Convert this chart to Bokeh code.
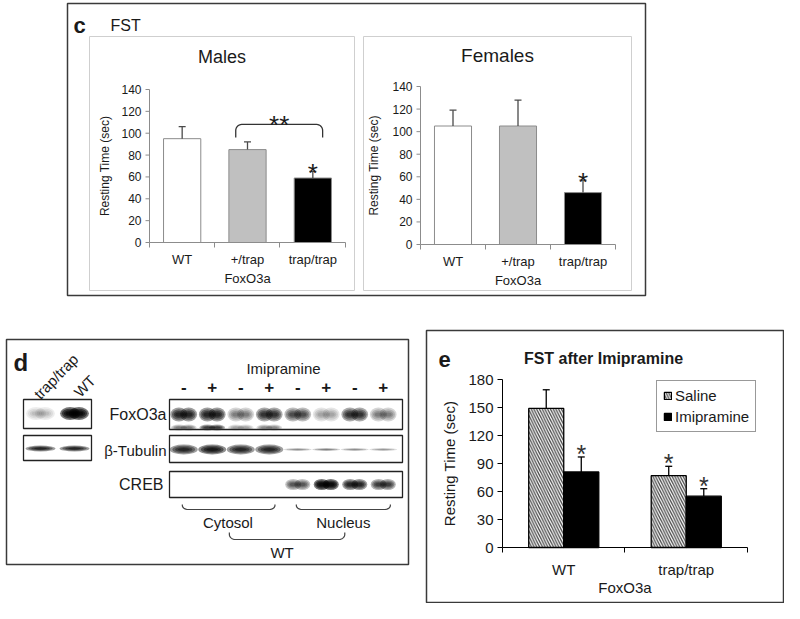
import numpy as np
from bokeh.plotting import figure
from bokeh.models import Range1d, Legend, LegendItem
from bokeh.core.properties import value
from bokeh.embed import file_html
from bokeh.resources import INLINE

FONT = value("Liberation Sans")
INK = "#1a1a1a"
STAR_K = 0.4   # approx. height of the asterisk centre above the baseline, in em

# ---------------- data ----------------
fst_groups = ["WT", "+/trap", "trap/trap"]
fst_colors = ["#ffffff", "#c0c0c0", "#000000"]
male_mean = [95, 85, 59]
male_err = [11, 7, 6]
female_mean = [105, 105, 46]
female_err = [14, 23, 11]
fst_ticks = [0, 20, 40, 60, 80, 100, 120, 140]
male_star = [False, False, True]
female_star = [False, False, True]
male_bracket = ("+/trap", "trap/trap")

imi_groups = ["WT", "trap/trap"]
saline_mean = [149, 77]
saline_err = [20, 10]
imip_mean = [81, 55]
imip_err = [16, 8]
imi_ticks = [0, 30, 60, 90, 120, 150, 180]
saline_star = [False, True]
imip_star = [True, True]

blot_signs = ["-", "+", "-", "+", "-", "+", "-", "+"]
foxo3a_upper = [0.85, 0.85, 0.5, 0.8, 0.7, 0.35, 0.8, 0.5]
foxo3a_lower = [0.5, 0.75, 0.35, 0.45, 0.0, 0.0, 0.0, 0.0]
tubulin_band = [0.85, 0.9, 0.85, 0.85, 0.45, 0.5, 0.45, 0.4]
creb_band = [0.0, 0.0, 0.0, 0.0, 0.65, 0.95, 0.85, 0.75]
left_lanes = ["trap/trap", "WT"]
left_foxo3a = [0.25, 0.95]
left_tubulin = [0.85, 0.85]

# ---------------- canvas ----------------
p = figure(width=784, height=603, x_range=Range1d(8, 792), y_range=Range1d(611, 8),
           x_axis_type=None, y_axis_type=None, toolbar_location=None,
           output_backend="svg", min_border=0, outline_line_color=None)
p.background_fill_color = "white"
p.border_fill_color = "white"


def label(g, x, y, s, size, align="center", baseline="middle", bold=False,
          color=INK, angle=0.0):
    g.text(x=[x], y=[y], text=[s], text_font=FONT, text_font_size=f"{size}px",
           text_font_style="bold" if bold else "normal", text_align=align,
           text_baseline=baseline, text_color=color, angle=angle)


def bracket(g, xl, xr, yb, yt, rx, ry, **kw):
    th = np.linspace(0, np.pi / 2, 8)
    lx = xl + rx - rx * np.cos(th)
    ly = yt - ry + ry * np.sin(th)
    rxs = xr - rx + rx * np.sin(th)
    rys = yt - ry + ry * np.cos(th)
    xs = [xl] + list(lx) + list(rxs) + [xr]
    ys = [yb] + list(ly) + list(rys) + [yb]
    g.line(xs, ys, **kw)


# ======================= panel c =======================
p.quad(left=[75], right=[653], top=[11], bottom=[303], fill_color=None,
       line_color="#3a3a3a", line_width=1.5)
p.quad(left=[97, 371], right=[362, 639], top=[44, 44], bottom=[298, 298],
       fill_color=None, line_color="#cfcfcf", line_width=1)
label(p, 81, 33, "c", 22, align="left", baseline="alphabetic", bold=True)
label(p, 118, 33, "FST", 16, align="left", baseline="alphabetic")


def fst_panel(xt, yt, means, errs, stars):
    n = len(fst_groups)
    ymax = fst_ticks[-1]
    sub = p.subplot(x_source=Range1d(0, n), y_source=Range1d(0, ymax),
                    x_target=Range1d(*xt), y_target=Range1d(*yt))
    ux = (xt[1] - xt[0]) / n
    uy = (yt[0] - yt[1]) / ymax
    xs = np.arange(n) + 0.5
    m = np.asarray(means, float)
    top = m + np.asarray(errs, float)
    grey = "#8c8c8c"
    sub.vbar(x=xs, bottom=0, top=m, width=0.57, fill_color=fst_colors,
             line_color=grey, line_width=1)
    sub.segment(x0=xs, y0=m, x1=xs, y1=top, line_color="#4a4a4a", line_width=1.3)
    sub.segment(x0=xs - 3.5 / ux, y0=top, x1=xs + 3.5 / ux, y1=top,
                line_color="#4a4a4a", line_width=1.3)
    sub.segment(x0=[0, 0], y0=[0, 0], x1=[0, n], y1=[ymax, 0], line_color=grey, line_width=1)
    t = np.asarray(fst_ticks, float)
    sub.segment(x0=0, y0=t, x1=-4 / ux, y1=t, line_color=grey)
    b = np.arange(n + 1)
    sub.segment(x0=b, y0=0, x1=b, y1=-5 / uy, line_color=grey)
    sub.text(x=-8 / ux, y=t, text=[str(v) for v in fst_ticks], text_align="right",
             text_baseline="middle", text_font=FONT, text_font_size="12px", text_color=INK)
    sub.text(x=xs, y=-17 / uy, text=fst_groups, text_align="center", text_baseline="middle",
             text_font=FONT, text_font_size="13px", text_color=INK)
    sub.text(x=[n / 2], y=[-36 / uy], text=["FoxO3a"], text_align="center",
             text_baseline="middle", text_font=FONT, text_font_size="13px", text_color=INK)
    idx = [i for i, s in enumerate(stars) if s]
    fs = 26
    sub.text(x=xs[idx], y=top[idx] + (9 - STAR_K * fs) / uy, text=["*"] * len(idx),
             text_align="center", text_baseline="alphabetic", text_font=FONT,
             text_font_size=f"{fs}px", text_color=INK)
    return sub, ux, uy


sub_m, uxm, uym = fst_panel((157, 353), (250, 97), male_mean, male_err, male_star)
label(p, 229.5, 64, "Males", 18)
label(p, 112, 173.5, "Resting Time (sec)", 12, angle=np.pi / 2)

i0, i1 = fst_groups.index(male_bracket[0]), fst_groups.index(male_bracket[1])
bxl, bxr = i0 + 0.32, i1 + 0.65
b_top, b_bot = 108, 96
bracket(sub_m, bxl, bxr, b_bot, b_top, 6 / uxm, 6 / uym, line_color="#333333", line_width=1.3)
sub_m.text(x=[(bxl + bxr) / 2], y=[b_top + (10 - STAR_K * 26) / uym], text=["**"],
           text_align="center", text_baseline="alphabetic", text_font=FONT,
           text_font_size="26px", text_color=INK)

sub_f, uxf, uyf = fst_panel((428, 623), (252, 94), female_mean, female_err, female_star)
label(p, 505, 63, "Females", 19)
label(p, 381, 173, "Resting Time (sec)", 12, angle=np.pi / 2)

# ======================= panel d =======================
p.quad(left=[14], right=[416], top=[347], bottom=[572], fill_color=None,
       line_color="#3a3a3a", line_width=1.5)
label(p, 21, 370, "d", 24, align="left", baseline="alphabetic", bold=True)


def blobs(g, xc, yc, w, h, inten):
    a = 1 - (1 - np.clip(np.asarray(inten, float), 0, 0.99)) ** (1 / 4)
    for fw, fh in [(1.0, 1.0), (0.82, 0.75), (0.62, 0.5), (0.42, 0.3)]:
        g.ellipse(x=xc, y=yc, width=w * fw, height=h * fh, width_units="screen",
                  height_units="screen", fill_color="#000000", fill_alpha=a,
                  line_color=None)


# left blot (trap/trap vs WT)
lb = p.subplot(x_source=Range1d(0.5, 2.5), y_source=Range1d(611, 8),
               x_target=Range1d(31, 99), y_target=Range1d(611, 8))
ll = np.arange(len(left_lanes)) + 1.0
blobs(lb, ll - 0.13, 421, 20, 13, left_foxo3a)
blobs(lb, ll + 0.13, 421, 20, 13, left_foxo3a)
blobs(lb, ll, 456, 30, 6, left_tubulin)
lb.quad(left=[0.5, 0.5], right=[2.5, 2.5], top=[407, 443], bottom=[436, 468],
        fill_color=None, line_color="#222222", line_width=1.3)
label(p, 44, 404, left_lanes[0], 15, align="left", baseline="alphabetic", angle=0.8)
label(p, 84, 402, left_lanes[1], 15, align="left", baseline="alphabetic", angle=0.8)

# right blot (fractions)
rb = p.subplot(x_source=Range1d(0.5, 8.5), y_source=Range1d(611, 8),
               x_target=Range1d(177, 405), y_target=Range1d(611, 8))
lanes = np.arange(len(blot_signs)) + 1.0
blobs(rb, lanes - 0.17, 422, 17, 14, foxo3a_upper)
blobs(rb, lanes + 0.17, 422, 17, 14, foxo3a_upper)
blobs(rb, lanes - 0.17, 435, 16, 6, foxo3a_lower)
blobs(rb, lanes + 0.17, 435, 16, 6, foxo3a_lower)
tub_h = np.where(np.asarray(tubulin_band) > 0.6, 10, 3)
blobs(rb, lanes, 457, 28, tub_h, tubulin_band)
blobs(rb, lanes - 0.16, 492, 16, 11, creb_band)
blobs(rb, lanes + 0.16, 492, 16, 11, creb_band)
p.quad(left=[177, 177, 177], right=[410, 410, 410], top=[407, 443, 479],
       bottom=[437, 470, 505], fill_color=None, line_color="#222222", line_width=1.3)
rb.text(x=lanes, y=394, text=blot_signs, text_align="center", text_baseline="middle",
        text_font=FONT, text_font_size="17px", text_font_style="bold", text_color=INK)
rb.text(x=[4.5], y=[376], text=["Imipramine"], text_align="center", text_baseline="middle",
        text_font=FONT, text_font_size="15px", text_color=INK)
label(p, 174, 422, "FoxO3a", 16, align="right")
label(p, 174, 458, "\u03b2-Tubulin", 15, align="right")
label(p, 171, 492, "CREB", 16, align="right")

rx = 6 / 28.5
bracket(rb, 0.95, 4.2, 512, 517, rx, 4, line_color="#444444", line_width=1.2)
bracket(rb, 4.95, 8.25, 512, 517, rx, 4, line_color="#444444", line_width=1.2)
bracket(rb, 2.6, 6.65, 540, 547, rx, 5, line_color="#444444", line_width=1.2)
rb.text(x=[2.55, 6.6], y=[530, 530], text=["Cytosol", "Nucleus"], text_align="center",
        text_baseline="middle", text_font=FONT, text_font_size="15px", text_color=INK)
rb.text(x=[4.45], y=[560], text=["WT"], text_align="center", text_baseline="middle",
        text_font=FONT, text_font_size="15px", text_color=INK)

# ======================= panel e =======================
p.quad(left=[434], right=[791], top=[338], bottom=[610], fill_color=None,
       line_color="#3a3a3a", line_width=1.5)
label(p, 446, 367, "e", 22, align="left", baseline="alphabetic", bold=True)
label(p, 611, 366, "FST after Imipramine", 16, baseline="alphabetic", bold=True)

ne = len(imi_groups)
emax = imi_ticks[-1]
xte, yte = (510, 755), (555, 387)
se = p.subplot(x_source=Range1d(0, ne), y_source=Range1d(0, emax),
               x_target=Range1d(*xte), y_target=Range1d(*yte))
uxe = (xte[1] - xte[0]) / ne
uye = (yte[0] - yte[1]) / emax
xe = np.arange(ne) + 0.5
bw = 0.286
xsal, ximp = xe - bw / 2, xe + bw / 2
sm, smt = np.asarray(saline_mean, float), np.asarray(saline_mean, float) + np.asarray(saline_err, float)
im, imt = np.asarray(imip_mean, float), np.asarray(imip_mean, float) + np.asarray(imip_err, float)

r_sal = se.vbar(x=xsal, bottom=0, top=sm, width=bw, fill_color="white",
                hatch_pattern="left_diagonal_line", hatch_color="#4a4a4a",
                hatch_scale=5.5, hatch_weight=1.3, line_color="black", line_width=1.3)
r_imp = se.vbar(x=ximp, bottom=0, top=im, width=bw, fill_color="black",
                line_color="black", line_width=1.3)
for xx, lo, hi in [(xsal, sm, smt), (ximp, im, imt)]:
    se.segment(x0=xx, y0=lo, x1=xx, y1=hi, line_color="black", line_width=1.3)
    se.segment(x0=xx - 3.5 / uxe, y0=hi, x1=xx + 3.5 / uxe, y1=hi, line_color="black", line_width=1.3)

se.segment(x0=[0, 0], y0=[0, 0], x1=[0, ne], y1=[emax, 0], line_color="black", line_width=1)
te = np.asarray(imi_ticks, float)
se.segment(x0=0, y0=te, x1=-5 / uxe, y1=te, line_color="black")
be = np.arange(ne + 1)
se.segment(x0=be, y0=0, x1=be, y1=-5 / uye, line_color="black")
se.text(x=-9 / uxe, y=te, text=[str(v) for v in imi_ticks], text_align="right",
        text_baseline="middle", text_font=FONT, text_font_size="15px", text_color=INK)
se.text(x=xe, y=-22 / uye, text=imi_groups, text_align="center", text_baseline="middle",
        text_font=FONT, text_font_size="15px", text_color=INK)
se.text(x=[ne / 2], y=[-40 / uye], text=["FoxO3a"], text_align="center",
        text_baseline="middle", text_font=FONT, text_font_size="15px", text_color=INK)
label(p, 457, 471, "Resting Time (sec)", 15, angle=np.pi / 2)

fs_e = 25
for xx, hi, st in [(xsal, smt, saline_star), (ximp, imt, imip_star)]:
    idx = [i for i, s in enumerate(st) if s]
    se.text(x=xx[idx], y=hi[idx] + (13 - STAR_K * fs_e) / uye, text=["*"] * len(idx),
            text_align="center", text_baseline="alphabetic", text_font=FONT,
            text_font_size=f"{fs_e}px", text_color="#333333")

legend = Legend(items=[LegendItem(label="Saline", renderers=[r_sal]),
                       LegendItem(label="Imipramine", renderers=[r_imp])],
                location=(656, 171), orientation="vertical", glyph_width=9, glyph_height=9,
                label_text_font="Liberation Sans", label_text_font_size="15px",
                label_text_color=INK, label_standoff=3, padding=6, spacing=4, margin=0,
                border_line_color="#333333", border_line_width=1,
                background_fill_color="white", background_fill_alpha=1.0)
p.add_layout(legend)

open("out.html", "w").write(file_html(p, INLINE))
